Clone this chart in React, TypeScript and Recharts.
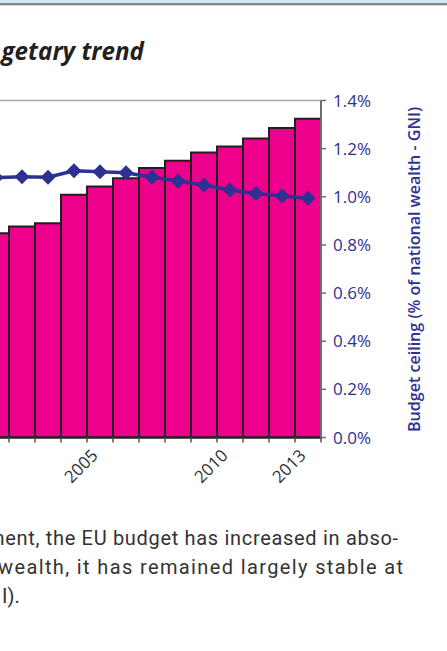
import React from 'react';
import { ComposedChart, Bar, Line, XAxis, YAxis, ReferenceLine } from 'recharts';

// ---- data ----
const years = ['2001', '2002', '2003', '2004', '2005', '2006', '2007', '2008', '2009', '2010', '2011', '2012', '2013'];
// EU budget (billion EUR, left axis - outside the visible crop)
const budget = [97.0, 100.2, 101.7, 115.2, 119.2, 123.1, 127.9, 131.4, 135.3, 138.2, 142.0, 146.9, 151.3];
// Budget ceiling (% of GNI, right axis)
const ceiling = [1.08, 1.083, 1.081, 1.108, 1.104, 1.1, 1.081, 1.066, 1.049, 1.028, 1.014, 1.003, 0.994];
const labeledYears = ['2005', '2010', '2013'];
const rightTicks = [0, 0.2, 0.4, 0.6, 0.8, 1.0, 1.2, 1.4];

const data = years.map((y, i) => ({ year: y, budget: budget[i], ceiling: ceiling[i] }));

// ---- layout ----
const CHART_LEFT = -17;
const CHART_W = 463;
const CHART_H = 498;
const MARGIN = { top: 100.5, right: 5, bottom: 0.5, left: 0 };
const RIGHT_AXIS_W = 120;
const PLOT_W = CHART_W - MARGIN.left - MARGIN.right - RIGHT_AXIS_W;
const BAND = PLOT_W / years.length;

const BLUE = '#2e3192';
const MAGENTA = '#ec008c';
const DARK = '#231f20';

const Diamond = (props: any) => {
  const { cx, cy, index } = props;
  if (cx == null || cy == null) return null;
  const r = 7.5;
  return (
    <path
      key={`d-${index}`}
      d={`M${cx},${cy - r}L${cx + r},${cy}L${cx},${cy + r}L${cx - r},${cy}Z`}
      fill={BLUE}
    />
  );
};

const XTick = (props: any) => {
  const { x, payload, index } = props;
  const axisY = CHART_H - MARGIN.bottom - 60;
  const val = String(payload.value);
  const isLast = index === years.length - 1;
  const ax = x - 1;
  const ay = axisY + 19;
  return (
    <g>
      <line x1={x - BAND / 2} x2={x - BAND / 2} y1={axisY} y2={axisY + 5} stroke="#555" strokeWidth={1.5} />
      {isLast && (
        <line x1={x + BAND / 2} x2={x + BAND / 2} y1={axisY} y2={axisY + 5} stroke="#555" strokeWidth={1.5} />
      )}
      {labeledYears.includes(val) && (
        <text
          x={ax}
          y={ay}
          transform={`rotate(-45, ${ax}, ${ay})`}
          textAnchor="end"
          fontSize={17}
          fontFamily="'Open Sans', sans-serif"
          fill="#333"
        >
          {val}
        </text>
      )}
    </g>
  );
};

const AxisTitle = (props: any) => {
  const vb = props.viewBox || {};
  const bx = (vb.x ?? 338) + 99;
  const by = (vb.y ?? 100.5) + (vb.height ?? 337) / 2 + 0.5;
  return (
    <text
      transform={`translate(${bx},${by}) rotate(-90)`}
      textAnchor="middle"
      fontSize={16}
      fontWeight={600}
      fontFamily="'Open Sans', sans-serif"
      fill={BLUE}
      textLength={325}
      lengthAdjust="spacingAndGlyphs"
    >
      Budget ceiling (% of national wealth - GNI)
    </text>
  );
};

export default function App() {
  return (
    <div
      style={{
        position: 'absolute',
        left: 0,
        top: 0,
        width: 447,
        height: 651,
        overflow: 'hidden',
        background: '#fff',
      }}
    >
      <div style={{ position: 'absolute', left: CHART_LEFT, top: 0 }}>
        <ComposedChart width={CHART_W} height={CHART_H} data={data} margin={MARGIN} barCategoryGap={0} barGap={0}>
          <XAxis
            dataKey="year"
            interval={0}
            tickLine={false}
            tick={<XTick />}
            height={60}
            axisLine={{ stroke: DARK, strokeWidth: 2 }}
          />
          <YAxis yAxisId="left" hide domain={[0, 160]} />
          <YAxis
            yAxisId="right"
            orientation="right"
            domain={[0, 1.4]}
            ticks={rightTicks}
            width={RIGHT_AXIS_W}
            tickSize={5}
            tickMargin={7}
            tickFormatter={(v: number) => `${v.toFixed(1)}%`}
            axisLine={{ stroke: '#6d6e71', strokeWidth: 2 }}
            tickLine={{ stroke: '#6d6e71', strokeWidth: 1.5 }}
            tick={{ fill: BLUE, fontSize: 17, fontFamily: "'Open Sans', sans-serif" }}
            label={{ content: <AxisTitle /> }}
          />
          <ReferenceLine yAxisId="right" y={1.4} stroke="#a7a9ac" strokeWidth={1.5} />
          <Bar
            yAxisId="left"
            dataKey="budget"
            fill={MAGENTA}
            stroke={DARK}
            strokeWidth={2}
            isAnimationActive={false}
          />
          <Line
            yAxisId="right"
            dataKey="ceiling"
            type="linear"
            stroke={BLUE}
            strokeWidth={3.5}
            dot={<Diamond />}
            activeDot={false}
            isAnimationActive={false}
          />
        </ComposedChart>
      </div>
      <svg
        width={447}
        height={651}
        style={{ position: 'absolute', left: 0, top: 0, pointerEvents: 'none' }}
      >
        <rect x={0} y={0} width={447} height={3} fill="#cfe9f8" />
        <rect x={0} y={3} width={447} height={2.3} fill="#808285" />
        <text
          x={-1}
          y={60}
          textAnchor="end"
          fontSize={25}
          fontWeight={700}
          fontStyle="italic"
          fontFamily="'Open Sans', sans-serif"
          fill={DARK}
        >
          Bud
        </text>
        <text
          x={1.5}
          y={60}
          fontSize={25}
          fontWeight={700}
          fontStyle="italic"
          fontFamily="'Open Sans', sans-serif"
          fill={DARK}
          textLength={142.5}
          lengthAdjust="spacingAndGlyphs"
        >
          getary trend
        </text>
        <g fontFamily="Roboto, 'Open Sans', sans-serif" fontSize={20} fill="#333">
          <text x={-13} y={545} textLength={411} lengthAdjust="spacing">
            ment, the EU budget has increased in abso-
          </text>
          <text x={-2} y={574} textLength={405} lengthAdjust="spacing">
            wealth, it has remained largely stable at
          </text>
          <text x={2} y={603}>
            I).
          </text>
        </g>
      </svg>
    </div>
  );
}
